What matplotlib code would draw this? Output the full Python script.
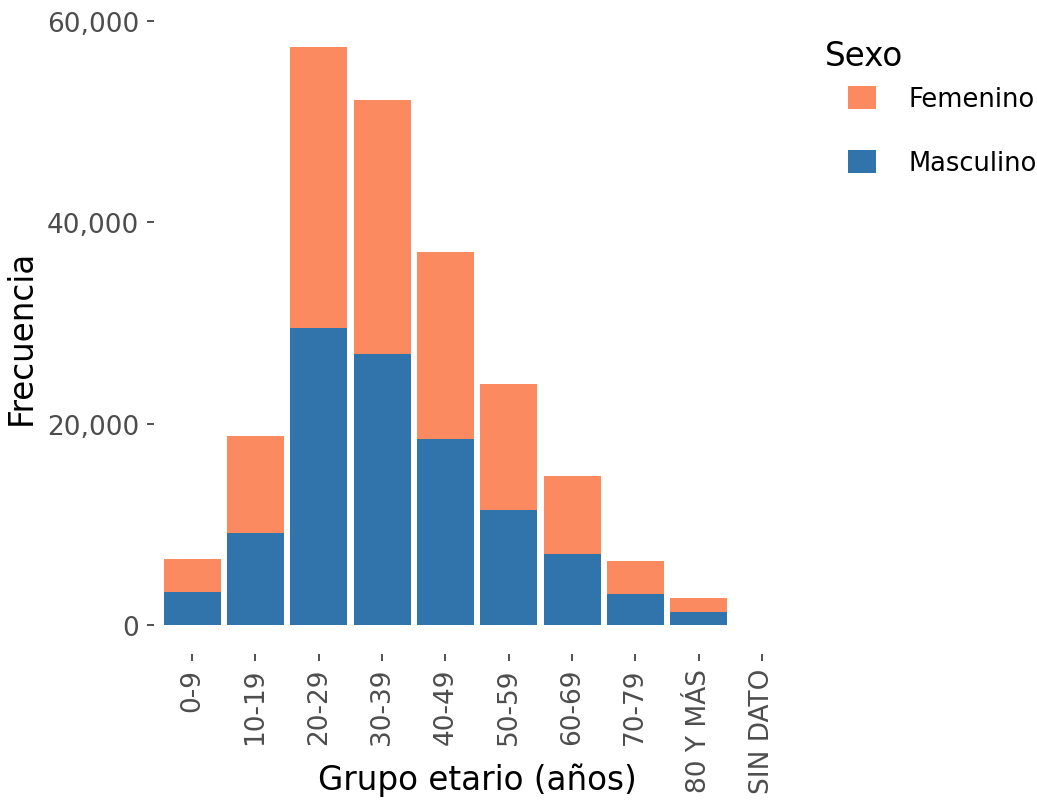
import matplotlib.pyplot as plt
from matplotlib.patches import Patch
from matplotlib.ticker import FuncFormatter

grupos = ['0-9', '10-19', '20-29', '30-39', '40-49', '50-59',
          '60-69', '70-79', '80 Y MÁS', 'SIN DATO']
masculino = [3280, 9140, 29510, 26930, 18480, 11430, 7050, 3080, 1290, 15]
femenino = [3280, 9640, 27920, 25230, 18580, 12510, 7750, 3280, 1390, 10]

col_fem = '#FC8A61'
col_mas = '#3174AB'

fig = plt.figure(figsize=(10.37, 8.03), dpi=100)
W, H = 1037, 803
ax = fig.add_axes([154 / W, 1 - 655 / H, (800 - 154) / W, (655 - 19) / H])

x = list(range(len(grupos)))
ax.bar(x, masculino, width=0.9, color=col_mas, edgecolor='none')
ax.bar(x, femenino, width=0.9, bottom=masculino, color=col_fem, edgecolor='none')

ax.set_xlim(-0.6, 9.6)
ax.set_ylim(-2881, 60298)
ax.set_yticks([0, 20000, 40000, 60000])
ax.yaxis.set_major_formatter(FuncFormatter(lambda v, p: f'{int(v):,}'))
ax.set_xticks(x)
ax.set_xticklabels(grupos, rotation=90)

for s in ax.spines.values():
    s.set_visible(False)
ax.tick_params(axis='both', length=5, width=1.2, color='#333333',
               labelcolor='#4d4d4d', labelsize=19)
ax.tick_params(axis='y', pad=5.5)
ax.tick_params(axis='x', pad=5)

ax.set_xlabel('Grupo etario (años)', fontsize=23.5)
ax.xaxis.set_label_coords(0.5, -0.17)
ax.set_ylabel('Frecuencia', fontsize=23.5)
ax.yaxis.set_label_coords(-0.18, 0.5)

# legend: title as plain text, entries indented like the original
fig.text(825 / W, 1 - 57 / H, 'Sexo', fontsize=23.5, va='center', ha='left')
handles = [Patch(facecolor=col_fem, label='Femenino'),
           Patch(facecolor=col_mas, label='Masculino')]
fig.legend(handles=handles, loc='upper left',
           bbox_to_anchor=(848 / W, 1 - 87 / H), frameon=False,
           fontsize=18.5, handlelength=1.09, handleheight=1.0,
           labelspacing=1.45, handletextpad=1.25, borderpad=0,
           borderaxespad=0)

fig.savefig('out.png', dpi=100)
